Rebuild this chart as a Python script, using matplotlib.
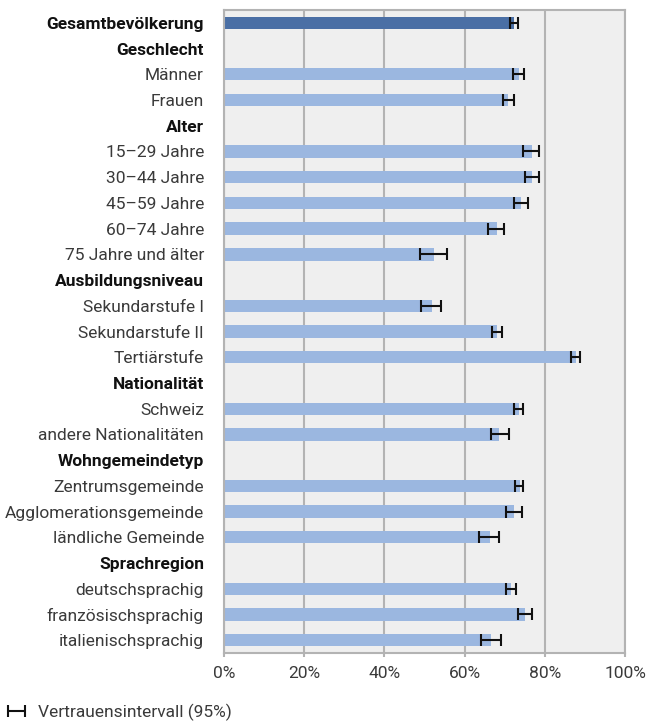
import matplotlib
matplotlib.use("Agg")
import matplotlib.pyplot as plt
from matplotlib.ticker import PercentFormatter

plt.rcParams["font.family"] = ["Roboto", "DejaVu Sans"]

labels = ["Gesamtbevölkerung", "Geschlecht", "Männer", "Frauen", "Alter",
          "15–29 Jahre", "30–44 Jahre", "45–59 Jahre", "60–74 Jahre",
          "75 Jahre und älter", "Ausbildungsniveau", "Sekundarstufe I",
          "Sekundarstufe II", "Tertiärstufe", "Nationalität", "Schweiz",
          "andere Nationalitäten", "Wohngemeindetyp", "Zentrumsgemeinde",
          "Agglomerationsgemeinde", "ländliche Gemeinde", "Sprachregion",
          "deutschsprachig", "französischsprachig", "italienischsprachig"]
headers = ["Gesamtbevölkerung", "Geschlecht", "Alter", "Ausbildungsniveau",
           "Nationalität", "Wohngemeindetyp", "Sprachregion"]
# None = Überschriftzeile ohne Balken
values = [72.3, None, 73.6, 70.7, None, 76.7, 76.7, 74.0, 68.0, 52.3, None,
          51.8, 68.0, 87.8, None, 73.5, 68.7, None, 73.8, 72.2, 66.3, None,
          71.5, 75.1, 66.5]
ci_low = [71.2, None, 72.1, 69.5, None, 74.6, 75.1, 72.4, 65.9, 49.0, None,
          49.2, 66.8, 86.5, None, 72.4, 66.5, None, 72.5, 70.3, 63.7, None,
          70.3, 73.4, 64.1]
ci_high = [73.2, None, 74.8, 72.2, None, 78.6, 78.6, 75.8, 69.9, 55.5, None,
           54.2, 69.4, 88.9, None, 74.5, 71.0, None, 74.6, 74.2, 68.7, None,
           72.7, 76.9, 69.0]

DARK = "#4a6fa5"
LIGHT = "#9bb7e0"
GRID = "#b3b3b3"
TXT = "#3a3a3a"
FS = 12.5

fig = plt.figure(figsize=(6.46, 7.21), dpi=100)
ax = fig.add_axes([0.3467, 0.0943, 0.6208, 0.8918])
ax.set_facecolor("#efefef")

rows = [i for i, v in enumerate(values) if v is not None]
vals = [values[i] for i in rows]
cols = [DARK if labels[i] == "Gesamtbevölkerung" else LIGHT for i in rows]
ax.barh(rows, vals, height=0.48, color=cols, zorder=2)
xerr = [[values[i] - ci_low[i] for i in rows], [ci_high[i] - values[i] for i in rows]]
eb = ax.errorbar(vals, rows, xerr=xerr, fmt="none", ecolor="#111111",
                 elinewidth=1.5, capsize=4, capthick=1.5, zorder=3)

ax.set_xlim(0, 100)
ax.set_ylim(len(labels) - 0.5, -0.5)
ax.set_xticks(range(0, 101, 20))
ax.xaxis.set_major_formatter(PercentFormatter(decimals=0))
ax.set_yticks(range(len(labels)))
ax.set_yticklabels(labels)
ax.tick_params(axis="y", length=0, pad=14.4, labelsize=FS)
ax.tick_params(axis="x", length=3, width=1.5, color=GRID, pad=6, labelsize=FS)
for t in ax.get_yticklabels():
    if t.get_text() in headers:
        t.set_fontweight("bold")
        t.set_color("#111111")
    else:
        t.set_fontweight("normal")
        t.set_color(TXT)
for t in ax.get_xticklabels():
    t.set_color(TXT)
ax.grid(axis="x", color=GRID, lw=1.5, zorder=1)
ax.set_axisbelow(True)
for s in ax.spines.values():
    s.set_color(GRID)
    s.set_linewidth(1.5)

leg = fig.legend([eb], ["Vertrauensintervall (95%)"], loc="center left",
                 bbox_to_anchor=(7 / 646, 1 - 712 / 721), frameon=False,
                 fontsize=FS, handlelength=1.1, handletextpad=0.7,
                 borderpad=0, borderaxespad=0)
for t in leg.get_texts():
    t.set_color(TXT)

fig.savefig("out.png", dpi=100)
